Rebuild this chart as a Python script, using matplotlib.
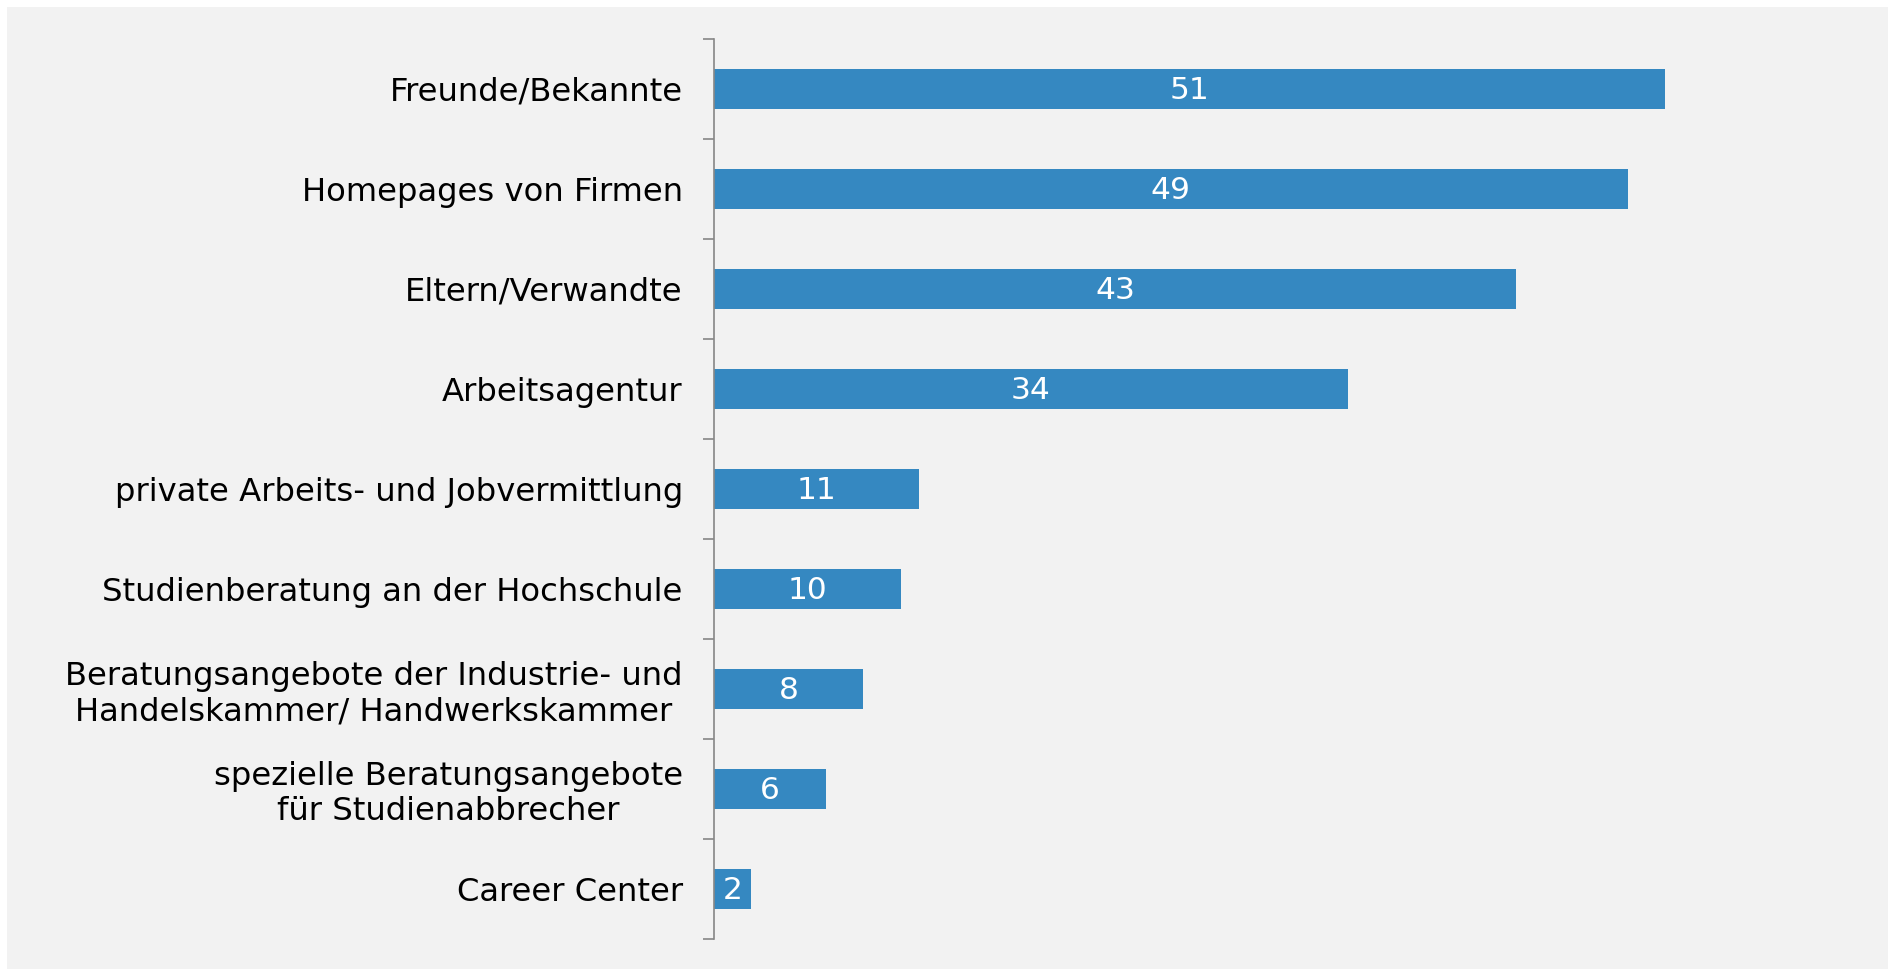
import matplotlib.pyplot as plt
from matplotlib.patches import Rectangle

categories = [
    "Freunde/Bekannte",
    "Homepages von Firmen",
    "Eltern/Verwandte",
    "Arbeitsagentur",
    "private Arbeits- und Jobvermittlung",
    "Studienberatung an der Hochschule",
    "Beratungsangebote der Industrie- und\nHandelskammer/ Handwerkskammer",
    "spezielle Beratungsangebote\nfür Studienabbrecher",
    "Career Center",
]
values = [51, 49, 43, 34, 11, 10, 8, 6, 2]

bar_color = "#3588c1"
axis_color = "#878787"

fig = plt.figure(figsize=(18.94, 9.72), dpi=100)
fig.patch.set_facecolor("white")
# grey panel behind the chart
panel = Rectangle((7 / 1894, 3 / 972), 1881 / 1894, 962 / 972,
                  transform=fig.transFigure, facecolor="#f2f2f2",
                  edgecolor="none", zorder=-10)
fig.add_artist(panel)

ax = fig.add_axes([714 / 1894, 1 - 938.6 / 972, (1833 - 714) / 1894, 900 / 972])
ax.set_facecolor("none")
ax.set_zorder(5)

pos = list(range(len(categories)))
ax.barh(pos, values, height=0.4, color=bar_color)

for p, v in zip(pos, values):
    ax.text(v / 2, p + 0.02, str(v), ha="center", va="center", color="white", fontsize=22.5)

ax.set_xlim(0, 60)
ax.set_ylim(len(categories) - 0.5, -0.5)

ax.set_yticks([p - 0.5 for p in pos] + [len(categories) - 0.5])
ax.set_yticklabels([])
ax.set_yticks(pos, minor=True)
ax.set_yticklabels(categories, minor=True, fontsize=23.2, color="#000000",
                   multialignment="center", linespacing=1.17)
ax.tick_params(axis="y", which="major", length=8, width=1.2, color=axis_color, direction="out")
ax.tick_params(axis="y", which="minor", length=0, pad=22.5)
ax.set_xticks([])

for s in ["top", "right", "bottom"]:
    ax.spines[s].set_visible(False)
ax.spines["left"].set_color(axis_color)
ax.spines["left"].set_linewidth(1.2)

fig.savefig("out.png", dpi=100, facecolor=fig.get_facecolor())
